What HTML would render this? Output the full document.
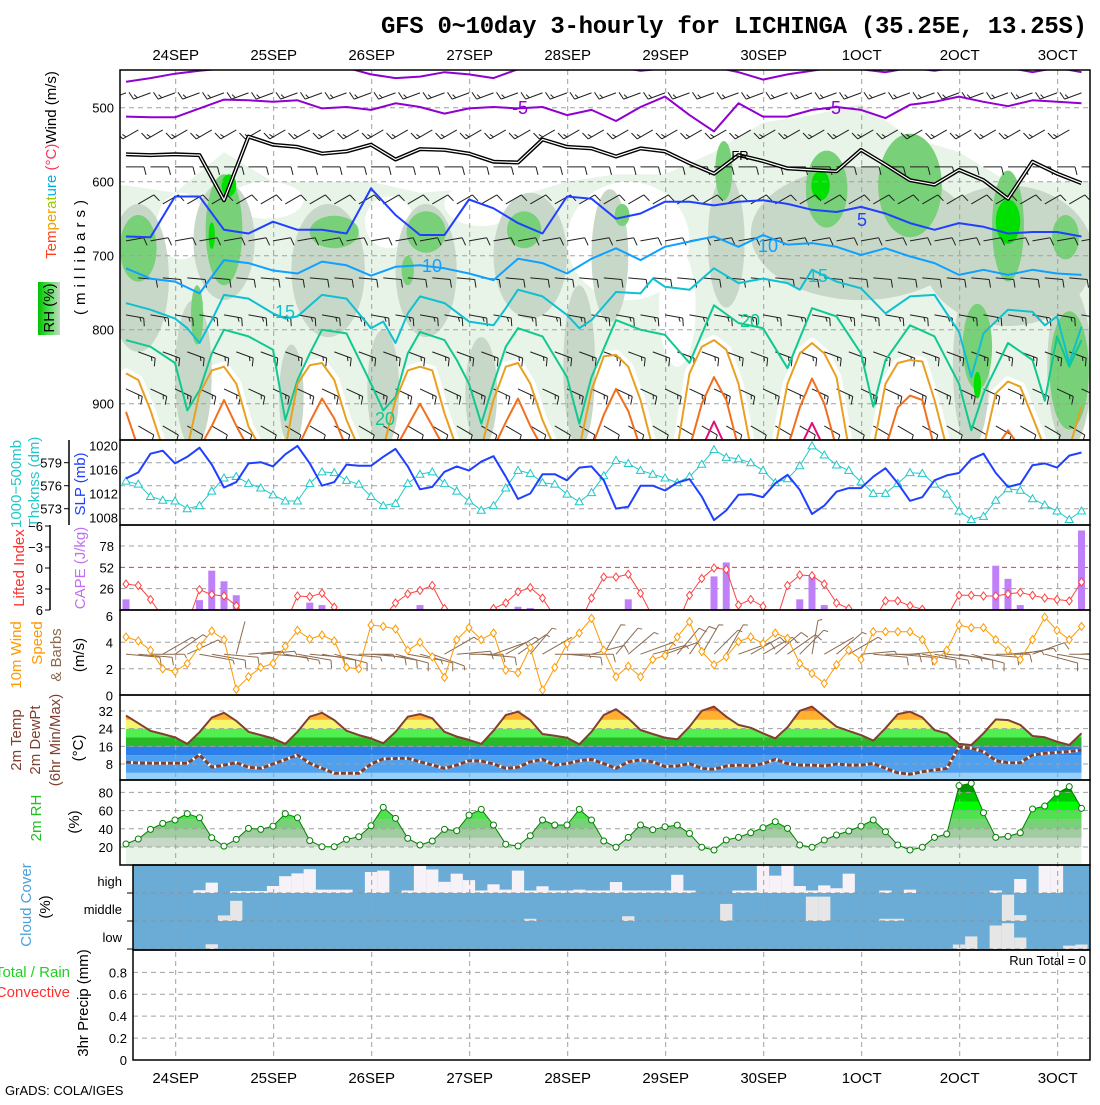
<!DOCTYPE html>
<html><head><meta charset="utf-8"><title>GFS meteogram LICHINGA</title>
<style>
body{margin:0;background:#fff}
svg text{font-family:"Liberation Sans",sans-serif}
.ax{font-size:13px;fill:#000}
.day{font-size:15px;fill:#000;text-anchor:middle}
.rt{font-size:15px}
</style></head>
<body>
<svg id="chart" width="1100" height="1100" viewBox="0 0 1100 1100" xmlns="http://www.w3.org/2000/svg">
<defs>
<clipPath id="c1"><rect x="120" y="70" width="970" height="370"/></clipPath>
<clipPath id="c2"><rect x="120" y="440" width="970" height="85"/></clipPath>
<clipPath id="c3"><rect x="120" y="525" width="970" height="85"/></clipPath>
<clipPath id="c4"><rect x="120" y="610" width="970" height="85"/></clipPath>
<clipPath id="c5"><rect x="120" y="695" width="970" height="85"/></clipPath>
<clipPath id="c6"><rect x="120" y="780" width="970" height="85"/></clipPath>
<clipPath id="c7"><rect x="133" y="865" width="957" height="85"/></clipPath>
<linearGradient id="rhg" x1="0" x2="1" y1="0" y2="0"><stop offset="0" stop-color="#00c000"/><stop offset="0.5" stop-color="#50e050"/><stop offset="1" stop-color="#c8d8c8"/></linearGradient>
</defs>
<rect x="0" y="0" width="1100" height="1100" fill="#fff"/>

<text x="734" y="33" font-family="Liberation Mono" font-weight="bold" font-size="24" text-anchor="middle" textLength="706" style="font-family:'Liberation Mono',monospace">GFS 0~10day 3-hourly for LICHINGA (35.25E, 13.25S)</text>

<g id="fills"></g>
<g id="grid"></g>
<g id="series"></g>
<g id="frames" fill="none" stroke="#000" stroke-width="1.5">
<rect x="120" y="70" width="970" height="370"/>
<rect x="120" y="440" width="970" height="85"/>
<rect x="120" y="525" width="970" height="85"/>
<rect x="120" y="610" width="970" height="85"/>
<rect x="120" y="695" width="970" height="85"/>
<rect x="120" y="780" width="970" height="85"/>
<rect x="133" y="865" width="957" height="85"/>
<rect x="133" y="950" width="957" height="110"/>
<line x1="69" y1="440" x2="69" y2="525"/>
<line x1="50" y1="525" x2="50" y2="610"/>
</g>

<g id="labels">
<text class="rt" transform="translate(56,165) rotate(-90)" text-anchor="middle"><tspan fill="#ff4020">Tem</tspan><tspan fill="#f0a000">per</tspan><tspan fill="#a0c800">at</tspan><tspan fill="#00b0e0">ure</tspan><tspan fill="#ff3050"> (°C)</tspan><tspan fill="#000">Wind (m/s)</tspan></text>
<rect x="38" y="282" width="22" height="53" fill="url(#rhg)"/>
<text class="rt" transform="translate(54,308) rotate(-90)" text-anchor="middle" fill="#000">RH (%)</text>
<text class="rt" transform="translate(85,255) rotate(-90)" text-anchor="middle" fill="#000" letter-spacing="5">(millibars)</text>

<text class="rt" transform="translate(21,484) rotate(-90)" text-anchor="middle" fill="#20c8c8">1000−500mb</text>
<text class="rt" transform="translate(39,482) rotate(-90)" text-anchor="middle" fill="#20c8c8">Thcknss (dm)</text>
<text class="rt" transform="translate(85,484) rotate(-90)" text-anchor="middle" fill="#2040ff">SLP (mb)</text>
<text class="rt" transform="translate(24,568) rotate(-90)" text-anchor="middle" fill="#ff3030">Lifted Index</text>
<text class="rt" transform="translate(85,568) rotate(-90)" text-anchor="middle" fill="#c070f0">CAPE (J/kg)</text>
<text class="rt" transform="translate(21,655) rotate(-90)" text-anchor="middle" fill="#ff9900">10m Wind</text>
<text class="rt" transform="translate(42,643) rotate(-90)" text-anchor="middle" fill="#ff9900">Speed</text>
<text class="rt" transform="translate(61,655) rotate(-90)" text-anchor="middle" fill="#8b6a4f">&amp; Barbs</text>
<text class="rt" transform="translate(84,655) rotate(-90)" text-anchor="middle" fill="#000">(m/s)</text>
<text class="rt" transform="translate(21,740) rotate(-90)" text-anchor="middle" fill="#804030">2m Temp</text>
<text class="rt" transform="translate(40,740) rotate(-90)" text-anchor="middle" fill="#804030">2m DewPt</text>
<text class="rt" transform="translate(60,740) rotate(-90)" text-anchor="middle" fill="#804030">(6hr Min/Max)</text>
<text class="rt" transform="translate(83,748) rotate(-90)" text-anchor="middle" fill="#000">(°C)</text>
<text class="rt" transform="translate(41,818) rotate(-90)" text-anchor="middle" fill="#20c020">2m RH</text>
<text class="rt" transform="translate(79,822) rotate(-90)" text-anchor="middle" fill="#000">(%)</text>
<text class="rt" transform="translate(31,905) rotate(-90)" text-anchor="middle" fill="#4aa0d8">Cloud Cover</text>
<text class="rt" transform="translate(50,907) rotate(-90)" text-anchor="middle" fill="#000">(%)</text>
<text class="rt" x="70" y="977" text-anchor="end" fill="#20d020">Total / Rain</text>
<text class="rt" x="70" y="997" text-anchor="end" fill="#ff3030">Convective</text>
<text class="rt" transform="translate(88,1003) rotate(-90)" text-anchor="middle" fill="#000">3hr Precip (mm)</text>
<text class="ax" x="122" y="886" text-anchor="end" font-size="15">high</text>
<text class="ax" x="122" y="914" text-anchor="end" font-size="15">middle</text>
<text class="ax" x="122" y="942" text-anchor="end" font-size="15">low</text>
<text class="ax" x="1086" y="965" text-anchor="end">Run Total = 0</text>
<text class="ax" x="5" y="1095">GrADS: COLA/IGES</text>
</g>
</svg>
<script>
// ---------------- data ----------------
const days = ['24SEP','25SEP','26SEP','27SEP','28SEP','29SEP','30SEP','1OCT','2OCT','3OCT'];
const slp = [1014.5,1015.5,1018.6,1019.1,1017,1018.1,1019.6,1016.8,1013,1013.9,1017,1017.2,1016.5,1018.5,1019.9,1017,1013.3,1013.9,1016.8,1016.6,1016.6,1018.1,1019.4,
1016.5,1012.7,1013.1,1015.6,1016.5,1015.8,1017.3,1018.2,1014.8,1011.1,1012,1015.2,1015.2,1014.2,1016.3,1016.5,1014.2,1009.5,1009.8,1013.3,1013.3,1012.5,1013.8,1014.4,1011.5,1007.6,1009.2,1011.8,
1011.9,1011.4,1013.7,1015.1,1012.6,1008.6,1010,1012.3,1012.9,1012.9,1014.8,1016.2,1013.7,1010.8,1011.4,1014.2,1015,1015.4,1017.7,1018.6,1015.4,1013.1,1013.6,1016.7,1017,1016.3,1018.3,1018.8];
const thk = [576.6,576.2,574.6,574.1,574,573,573.4,575.3,577,577.2,576.3,575.7,574.8,574,574,576.3,577.8,577.7,576.7,576.2,574.6,573.4,573.7,
576.3,577.5,577.8,576.3,575.3,574,572.8,573.4,575.7,578,577.6,576.4,576.2,574.9,573.9,575.1,577.3,579.3,578.9,578,577.5,577,576.4,577.2,578.8,580.7,579.7,579.5,
579,578,576.4,576.9,578.6,581.2,580,578.7,578,576.5,575,575,576.3,577.7,577.6,576.2,574.9,572.7,571.6,572,574.1,575.6,575.4,574.3,573.5,572.7,571.6,572.7];
const li = [2.3,2.5,4.5,7,8,8,3.1,3.8,4,5.4,7.5,8,8,8,4,4.1,3.6,5.6,8,8,7.5,7,5.0,
3.7,3.2,2.5,5.8,8,8,8,5.8,5.0,3.4,2.8,4.3,7,8,8,4.3,1.3,1.3,0.9,3.6,7,8,8,3.9,1.5,0,0.2,5.3,
4.5,5.5,8,2.5,1,1.1,2.3,5,5.8,8,7.5,4.7,4.7,5.4,5.9,8,7,3.9,3.9,4,4,3.7,3.5,3.9,4.3,4.5,4.7,2.0];
const cape = [13,0,0,0,0,0,12,48,35,18,1,0,0,0,0,9,6,0,0,0,0,0,0,0,6,0,0,0,0,0,0,0,4,2.5,0,0,0,0,0,0,0,13,0,0,0,0,0,0,41,58,0,0,0,0,0,13,42,6,0,0,0,0,0,0,0,0,0,0,0,0,0,54,38,6,1,0,1,0,97];
const spd = [4.4,4.1,3.4,2.0,1.8,2.4,3.7,4.85,4.2,0.45,1.4,2.1,2.4,3.7,4.9,4.25,4.55,4.1,2.1,2.0,5.3,5.2,5.0,
3.4,4.0,2.9,1.35,4.2,5.1,4.2,4.7,1.9,1.7,3.6,0.4,2.1,3.9,4.7,5.8,3.4,1.4,2.2,1.4,2.7,3.0,4.4,5.55,3.3,2.3,2.9,4.05,
4.4,3.9,4.7,4.3,2.4,1.65,0.9,2.3,3.4,2.7,4.8,4.8,4.8,4.8,4.2,2.6,3.4,5.3,5.1,5.1,4.2,3.4,2.7,4.2,5.9,4.9,4.2,5.2];
const wdir = [95,95,90,60,55,65,100,100,95,15, 85,85,95,100,100,95,100,105,95,90, 95,100,105,100,105,110,60,85,90,95,
70,60,55,40,60,90,95,90,75,30, 40,50,70,75,70,40,35,30,45,30, 70,60,60,50,55,45,10,60,50,60,
85,95,90,95,85,100,100,95,100,105, 95,90,85,80,70,105,100,90,85];
const temp = [29.9,26.5,23,21.6,20.1,17.1,22.4,29,31.2,27.5,22.6,21.1,19.6,17.1,22.6,29.4,31.2,27.9,23.1,21.1,19.6,17.4,22.5,
29.4,30.6,28.7,22.6,20.4,18.9,17.1,23.1,30.2,31.7,27.9,21.6,20.8,19.9,16.9,22.6,30.2,32.8,28.7,23.4,21.6,19.9,19.2,24.9,32.1,34,29.4,25.7,
24.4,21.9,19.6,24.6,32.1,34,29.4,24.9,23,21.1,18.6,24.2,30.6,31.7,29.1,23.4,21.9,17.1,16.6,21.9,28.2,27.9,25.7,20.7,20.1,18.1,16.6,21.9];
const dew = [8.8,8.5,8.3,8.3,8.3,8.3,12.1,6.5,7.5,8.6,6.5,6,8,10,12.1,8.3,6,3.8,3.8,3.8,8,10.3,10.5,
10.6,9,7.5,6,7.5,9.5,9.3,8,6,6.5,9,10.1,7.5,8.2,9.5,10.1,8.2,6,9,9.8,9,6.8,7.1,8.2,6,5.6,7.1,7.5,
7.1,8.2,10.1,8.2,7.5,7.5,7.1,8,7.5,7.5,8.2,6,4,3.4,4.5,5.3,6,15.8,15.1,13.6,9.5,8.6,8.6,12.1,12.8,13.2,13.6,14.3];
const rh = [23.3,28.8,39.4,46,49.7,56.6,52.2,30.2,21,28.4,40.5,39.4,43,56.6,52.2,27,20.3,20.3,28.4,31.3,43.4,63.6,51.5,
29.5,22.2,26.6,39.4,37.9,55,61.4,44.2,23,21.1,32.4,49.7,44.2,44.2,61.4,49.7,26.6,19.7,30.6,44.2,39,42.3,44,35,19.7,16.7,27.7,30.6,
35.7,41.2,47.8,40.5,22.2,19.7,27.7,33.2,37.6,43,49.7,36.8,22.2,16.7,19.7,30.6,34.3,87.4,90,57.7,30.6,31.7,35.7,61.8,65,79,86.3,62.5];
const cloudHigh = [0,0,0,0,0,0,10,37,0,7,7,7,25,60,70,85,12,12,12,0,75,80,0,9,100,84,40,69,46,9,31,12,80,9,24,9,9,12,9,9,39,9,9,9,9,65,9,0,0,0,9,9,100,62,100,25,9,27,17,69,0,0,9,0,12,0,0,0,0,0,0,9,0,50,0,100,100,0,0];
const cloudMid = [0,0,0,0,0,0,0,0,20,72,0,0,0,0,0,0,0,0,0,0,0,0,0,0,0,0,0,0,0,0,0,0,0,8,0,0,0,0,0,0,0,17,0,0,0,0,0,0,0,61,0,0,0,0,0,0,87,87,0,0,0,0,8,8,0,0,0,0,0,0,0,0,94,21,0,0,0,0,0];
const cloudLow = [0,0,0,0,0,0,0,17,0,0,0,0,0,0,0,0,0,0,0,0,0,0,0,0,0,0,0,0,0,0,0,0,0,0,0,0,0,0,0,0,0,0,0,0,0,0,0,0,0,0,0,0,0,0,0,0,0,0,0,0,0,0,0,0,0,0,0,0,16,45,0,84,92,41,0,0,0,12,16];
// upper-air temperature contours: pressure (mb) of each isotherm at time index
const cm10 = [465,460,454,450,447,446,446,446,448,446,455,460,458,452,455,460,448,446,446,445,445,450,447,446,445,452,462,455,450,445,448,452,446,450,445,445,446,452,446,452];
const cm5 = [512,513,513,501,489,490,492,490,501,499,503,494,499,508,501,499,501,499,510,503,518,499,485,510,532,494,512,512,503,499,503,514,496,492,485,492,498,490,492,494];
const cfr = [563,564,563,564,625,539,550,553,562,559,550,570,556,557,562,573,574,543,553,555,566,555,559,575,589,564,572,582,584,586,557,577,598,604,584,598,623,573,589,602];
const c5 = [674,675,620,620,665,670,654,665,665,670,609,645,672,672,624,636,656,670,620,623,650,643,627,627,632,627,625,630,638,641,634,643,656,665,656,661,670,668,668,674];
const c10 = [717,731,735,751,706,710,720,724,708,713,727,715,713,717,724,733,704,710,724,704,690,706,688,681,674,688,672,685,683,688,699,690,701,710,726,719,726,719,724,726];
const t15 = [0,2,4,5,6,7,8,10,12,13,14,16,18,20,21,22,23,24,26,28,30,31,32,34,36,37,38,40,42,43,44,46,48,50,52,54,55,56,58,60,62,64,66,68,69,70,72,74,75,76,77,78];
const p15 = [764,773,785,798,818,787,753,758,778,785,782,753,758,798,789,818,778,755,764,789,794,771,746,755,780,798,787,749,751,731,742,746,717,737,731,737,746,719,735,744,778,755,753,803,864,805,773,776,794,782,845,796];
const t20 = [0,2,4,5,6,7,8,10,12,13,14,15,16,18,20,21,22,23,24,26,27,28,29,30,31,32,34,36,37,38,40,42,44,46,48,50,52,54,56,58,60,61,62,64,66,68,69,70,72,74,75,76,77,78];
const p20 = [814,823,845,909,882,832,800,809,827,922,868,832,800,805,873,909,891,832,803,814,841,873,927,873,823,798,809,864,927,864,787,800,807,845,767,791,798,852,771,782,832,904,841,794,809,873,936,886,818,841,896,809,850,814];
const t25 = [0,1,2,3,5,6,7,8,9,10,11,13,14,15,16,17,18,19,21,22,23,24,25,26,27,29,30,31,32,33,34,35,37,38,39,40,41,42,43,45,46,47,48,49,50,51,53,54,55,56,57,58,59,61,62,63,64,65,66,67,70,71,72,73,74,75,77,78];
const p25 = [859,868,909,960,960,886,855,850,873,931,960,960,873,848,845,868,922,960,960,895,855,850,855,913,960,960,895,850,845,873,922,960,960,882,836,834,850,895,960,960,859,823,814,827,873,960,960,873,832,818,832,864,960,960,873,845,841,843,895,960,960,886,870,877,918,960,960,904];
const t30 = [0,1,6,7,8,9,10,14,15,16,17,18,22,23,24,25,26,30,31,32,33,34,38,39,40,41,42,46,47,48,49,50,54,55,56,57,58,62,63,64,65,66,71,72,73];
const p30 = [911,960,960,930,895,930,960,960,925,893,920,960,960,930,900,930,960,960,925,893,930,960,960,915,880,910,960,960,900,864,895,960,960,905,866,900,960,960,905,889,895,960,960,936,960];
const t35 = [47,48,49,55,56,57];
const p35 = [960,924,960,960,926,960];
// upper-air RH regions
const lightT = [0,4,8,12,16,20,24,28,32,36,40,44,48,52,56,60,64,68,72,76,78];
const lightP = [605,615,560,600,600,600,615,610,620,600,590,590,560,520,510,495,540,560,600,600,600];
const whiteT = [4.5,11.5,21.5,29,41,45], whiteP = [660,625,655,630,680,770], whiteW = [2,3,2,3,5,1.5], whiteH = [45,25,35,30,80,80];
const grayT = [1,5.5,8,13.5,16.5,21,24.5,29,33,37,39.5,49,60,72,69,77];
const grayP = [730,860,680,890,720,880,720,885,700,850,700,680,670,700,850,850];
const grayW = [2.5,1.5,2.5,1,3,1.3,2.5,1.3,3,1.3,1.5,1.5,9,7,1.5,1.8];
const grayH = [100,100,80,70,90,80,90,75,85,110,90,90,90,95,110,110];
const greenT = [1,8,5.8,17,24.5,23,32.5,40.5,48.8,57.2,64,72,76.7,69.5,77];
const greenP = [690,665,780,668,668,720,665,645,585,610,605,660,675,823,855];
const greenW = [1.5,1.5,0.5,2,1.6,0.5,1.4,0.6,0.7,1.7,2.6,1.3,1.1,1.2,1.6];
const greenH = [45,75,40,22,28,20,25,15,40,52,70,75,30,58,80];
const brightT = [8.4,7,56.7,72,69.5], brightP = [605,673,605,654,875], brightW = [0.6,0.25,0.75,1,0.3], brightH = [15,18,20,30,18];
// upper barbs per level
const barbP = [480,530,580,630,680,730,780,830,880,930];
const barbDir = [250,240,90,60,80,95,100,110,115,120];
const barbKt = [15,15,10,10,10,10,15,15,15,10];

// ---------------- axes ----------------
const NS = 'http://www.w3.org/2000/svg';
function mk(tag, parent){ const e = document.createElementNS(NS, tag); parent.appendChild(e); return e; }
function at(e, o){ for (const k in o) e.setAttribute(k, o[k]); return e; }
const X = i => 126 + 12.25 * i;
const dayX = d => 175.7 + 98 * d;
const pY = p => 107.7 + (p - 500) * 0.74;
const slpY = v => 445.3 + (1020 - v) * 6.03;
const thkY = v => 485.7 - (v - 576) * 7.67;
const liY = v => 568 + 7 * v;
const capeY = v => 610 - v * 0.82;
const spdY = v => 695.3 - 13.25 * v;
const tY = v => 764 - (v - 8) * 2.208;
const rhY = v => 847 - (v - 20) * 0.91;
const prY = v => 1060 - v * 109.6;

const fills = document.getElementById('fills');
const grid = document.getElementById('grid');
const series = document.getElementById('series');
const labels = document.getElementById('labels');
const evenIdx = []; for (let i = 0; i <= 78; i += 2) evenIdx.push(i);
const allIdx = []; for (let i = 0; i < 79; i++) allIdx.push(i);

function line(t, vals, yf, parent, color, w, dash){
  const pts = t.map((ti, k) => X(ti).toFixed(1) + ',' + yf(vals[k]).toFixed(1)).join(' ');
  const pl = mk('polyline', parent);
  at(pl, {points: pts, fill: 'none', stroke: color, 'stroke-width': w, 'stroke-linejoin': 'round'});
  if (dash) pl.setAttribute('stroke-dasharray', dash);
  return pl;
}
function txt(parent, x, y, s, cls, anchor, fill, size){
  const t = mk('text', parent);
  at(t, {x: x, y: y, 'text-anchor': anchor || 'end'});
  if (cls) t.setAttribute('class', cls);
  if (fill) t.setAttribute('fill', fill);
  if (size) t.setAttribute('font-size', size);
  t.textContent = s; return t;
}
function barb(parent, x, y, dir, kt, L, color){
  const r = dir * Math.PI / 180;
  const dx = Math.sin(r), dy = -Math.cos(r);
  const ex = x + dx * L, ey = y + dy * L;
  let d = 'M' + x.toFixed(1) + ' ' + y.toFixed(1) + 'L' + ex.toFixed(1) + ' ' + ey.toFixed(1);
  const px = -dy, py = dx; let n = Math.round(kt / 5), pos = 0;
  while (n > 0) {
    const bx = ex - dx * pos, by = ey - dy * pos;
    const fl = n >= 2 ? 8 : 4;
    d += 'M' + bx.toFixed(1) + ' ' + by.toFixed(1) + 'l' + (px * fl + dx * 2).toFixed(1) + ' ' + (py * fl + dy * 2).toFixed(1);
    n -= 2; pos += 4;
  }
  const p = mk('path', parent);
  at(p, {d: d, stroke: color, 'stroke-width': 1, fill: 'none'});
  return p;
}

// ---------------- upper-air panel ----------------
const gTop = mk('g', fills); gTop.setAttribute('clip-path', 'url(#c1)');


let lp = '120,440 120,' + pY(lightP[0]).toFixed(1) + ' ' + lightT.map((t, k) => X(t).toFixed(1) + ',' + pY(lightP[k]).toFixed(1)).join(' ') + ' 1090,' + pY(lightP[lightP.length - 1]).toFixed(1) + ' 1090,440';
const lightPoly = mk('polygon', gTop); at(lightPoly, {points: lp, fill: '#e8f4e8'});


function blobs(T, P, W, H, color, name){
  T.forEach((t, k) => {
    const e = mk('ellipse', gTop);
    at(e, {cx: X(t), cy: pY(P[k]), rx: W[k] * 12.25, ry: H[k] * 0.74, fill: color});
    
    
  });
}
blobs(whiteT, whiteP, whiteW, whiteH, '#ffffff', 'rh-dry-region');
const arch = mk('polygon', gTop);
at(arch, {points: '120,445 ' + t25.map((t, k) => X(t).toFixed(1) + ',' + pY(p25[k]).toFixed(1)).join(' ') + ' 1090,445', fill: '#fff', stroke: '#fff', 'stroke-width': 10, 'stroke-linejoin': 'round'});


blobs(grayT, grayP, grayW, grayH, '#c8d8c8', 'rh-mid-region');
blobs(greenT, greenP, greenW, greenH, '#78d078', 'rh-moist-region');
blobs(brightT, brightP, brightW, brightH, '#00e000', 'rh-saturated-region');

// ---------------- grid ----------------
days.forEach((d, k) => {
  const g = mk('line', grid);
  at(g, {x1: dayX(k), x2: dayX(k), y1: 70, y2: 1060, stroke: '#a0a0a0', 'stroke-dasharray': '5,4', 'stroke-width': 1});
  
  
  const t1 = txt(labels, dayX(k), 60, d, 'day', 'middle');
  
  
  const t2 = txt(labels, dayX(k), 1083, d, 'day', 'middle');
  
  
});
function hgrid(y, x0, color){
  const g = mk('line', grid);
  at(g, {x1: x0 || 120, x2: 1090, y1: y, y2: y, stroke: color || '#a0a0a0', 'stroke-dasharray': '5,4', 'stroke-width': 1});
  
  
}
const pTicks = [500,600,700,800,900];
pTicks.forEach(p => { hgrid(pY(p)); const t = txt(labels, 114, pY(p) + 5, String(p), 'ax');
  
   });
const thkTicks = [579,576,573];
thkTicks.forEach(v => { hgrid(thkY(v)); const t = txt(labels, 62, thkY(v) + 5, String(v), 'ax');
  
  
  const tk = mk('line', grid); at(tk, {x1: 64, x2: 69, y1: thkY(v), y2: thkY(v), stroke: '#000'});
  
   });
const slpTicks = [1020,1016,1012,1008];
slpTicks.forEach(v => { const t = txt(labels, 118, slpY(v) + 5, String(v), 'ax');
  
   });
const liTicks = [-6,-3,0,3,6];
liTicks.forEach(v => { const t = txt(labels, 43, liY(v) + 5, v < 0 ? '−' + (-v) : String(v), 'ax');
  
  
  const tk = mk('line', grid); at(tk, {x1: 45, x2: 50, y1: liY(v), y2: liY(v), stroke: '#000'});
  
   });
const capeTicks = [78,52,26];
capeTicks.forEach(v => { hgrid(capeY(v), 120, v === 52 ? '#ff3030' : '#a0a0a0'); const t = txt(labels, 114, capeY(v) + 5, String(v), 'ax');
  
   });
const spdTicks = [6,4,2,0];
spdTicks.forEach(v => { if (v === 2 || v === 4) hgrid(spdY(v)); const t = txt(labels, 113, spdY(v) + 5, String(v), 'ax');
  
   });
const tTicks = [32,24,16,8];
const rhTicks = [80,60,40,20];
const prTicks = [0.8,0.6,0.4,0.2,0];

// ---------------- temperature bands ----------------
const bandLo = [0,4,12,16,20,24,28,32,35];
const bandHi = [4,12,16,20,24,28,32,35,50];
const bandCol = ['#96cff8','#50a0f0','#2a80e8','#28b828','#50f050','#f5f56e','#ffb030','#ff7000','#e02000'];
const defs = document.querySelector('defs');
const tcp = mk('clipPath', defs); tcp.setAttribute('id', 'tclip');
const tcpPoly = mk('polygon', tcp);
tcpPoly.setAttribute('points', X(0) + ',780 ' + allIdx.map(i => X(i).toFixed(1) + ',' + tY(temp[i]).toFixed(1)).join(' ') + ' ' + X(78) + ',780');
const gT = mk('g', fills); gT.setAttribute('clip-path', 'url(#tclip)');


bandLo.forEach((lo, k) => { const r = mk('rect', gT);
  at(r, {x: X(0), width: X(78) - X(0), y: Math.max(tY(bandHi[k]), 695), height: Math.min(tY(lo), 780) - Math.max(tY(bandHi[k]), 695), fill: bandCol[k]});
  
   });
tTicks.forEach(v => { hgrid(tY(v)); const t = txt(labels, 113, tY(v) + 5, String(v), 'ax');
  
   });

// ---------------- RH bands ----------------
const rhLo = [0,20,30,40,50,60,70,80];
const rhHi = [20,30,40,50,60,70,80,100];
const rhCol = ['#e8f4e8','#c8d8c8','#a0cca0','#78d078','#50e050','#00ff00','#00c800','#009600'];
const rcp = mk('clipPath', defs); rcp.setAttribute('id', 'rclip');
const rcpPoly = mk('polygon', rcp);
rcpPoly.setAttribute('points', X(0) + ',865 ' + allIdx.map(i => X(i).toFixed(1) + ',' + rhY(rh[i]).toFixed(1)).join(' ') + ' ' + X(78) + ',865');
const gR = mk('g', fills); gR.setAttribute('clip-path', 'url(#rclip)');


const lightBase = mk('rect', fills);
at(lightBase, {x: X(0), width: X(78) - X(0), y: rhY(20), height: 865 - rhY(20), fill: '#e8f4e8'});


rhLo.forEach((lo, k) => { const r = mk('rect', gR);
  at(r, {x: X(0), width: X(78) - X(0), y: Math.max(rhY(rhHi[k]), 780), height: Math.min(rhY(lo), 865) - Math.max(rhY(rhHi[k]), 780), fill: rhCol[k]});
  
   });
rhTicks.forEach(v => { hgrid(rhY(v)); const t = txt(labels, 113, rhY(v) + 5, String(v), 'ax');
  
   });

// ---------------- cloud ----------------
const cb = mk('rect', fills); at(cb, {x: 133, y: 865, width: 957, height: 85, fill: '#6aacd6'});


const gC = mk('g', fills); gC.setAttribute('clip-path', 'url(#c7)');


const rowBottom = [893, 921, 949];
[cloudHigh, cloudMid, cloudLow].forEach((arr, r) => {
  arr.forEach((v, i) => { if (v <= 0) return;
    const h = 28 * v / 100; const b = mk('rect', gC);
    at(b, {x: X(i) - 6.125, width: 12.25, y: rowBottom[r] - h, height: h, fill: r === 0 ? '#f6f2f8' : '#e6e6e6'});
    
     });
  hgrid(rowBottom[r], 133, '#909090');
  const tk = mk('line', grid); at(tk, {x1: 127, x2: 133, y1: rowBottom[r], y2: rowBottom[r], stroke: '#000'});
  
  
});
prTicks.forEach(v => { if (v > 0) hgrid(prY(v), 133); const t = txt(labels, 127, prY(v) + 5, String(v), 'ax');
  
   });

// ---------------- upper-air lines ----------------
const gU = mk('g', series); gU.setAttribute('clip-path', 'url(#c1)');


barbP.forEach((p, l) => {
  for (let i = (l % 2); i <= 78; i += 2) {
    const b = barb(gU, X(i), pY(p), barbDir[l], barbKt[l], 18, '#202020');
    
    
  }
});
function cline(t, p, color, name, w){
  const l = line(t, p, pY, gU, color, w || 2);
  
  
}
cline(evenIdx, cm10, '#9000d0', 'isotherm-minus10');
cline(evenIdx, cm5, '#9000d0', 'isotherm-minus5');
cline(evenIdx, cfr, '#000', 'freezing-level', 4);
cline(evenIdx, cfr, '#fff', 'freezing-level-inner', 1.2);
cline(evenIdx, c5, '#2040ff', 'isotherm-5');
cline(evenIdx, c10, '#10a0ff', 'isotherm-10');
cline(t15, p15, '#10c0d0', 'isotherm-15');
cline(t20, p20, '#10c890', 'isotherm-20');
cline(t25, p25, '#e8a020', 'isotherm-25');
cline(t30, p30, '#f07020', 'isotherm-30');
cline(t35, p35, '#e0107a', 'isotherm-35');
const cLab = [['-5',520,114,'#9000d0'],['-5',833,114,'#9000d0'],['FR',740,160,'#000'],['5',862,226,'#2040ff'],['10',432,272,'#10a0ff'],['10',768,252,'#10a0ff'],['15',285,318,'#10c0d0'],['15',818,282,'#10c0d0'],['20',385,425,'#10c890'],['20',750,327,'#10c890']];
cLab.forEach(c => { const t = txt(gU, c[1], c[2], c[0], null, 'middle', c[3], c[0] === 'FR' ? 13 : 18);
  
   });

// ---------------- SLP / thickness ----------------
const g2 = mk('g', series); g2.setAttribute('clip-path', 'url(#c2)');
const thkL = line(allIdx, thk, thkY, g2, '#20c8c8', 1);


allIdx.forEach(i => { const m = mk('path', g2); const x = X(i), y = thkY(thk[i]);
  at(m, {d: 'M' + x + ' ' + (y - 4) + 'L' + (x + 4) + ' ' + (y + 3) + 'L' + (x - 4) + ' ' + (y + 3) + 'Z', fill: '#fff', stroke: '#20c8c8'});
  
   });
const slpL = line(allIdx, slp, slpY, g2, '#2040ff', 2);



// ---------------- CAPE / LI ----------------
const g3 = mk('g', series); g3.setAttribute('clip-path', 'url(#c3)');
cape.forEach((v, i) => { if (v <= 0) return; const r = mk('rect', g3);
  at(r, {x: X(i) - 3.5, width: 7, y: capeY(v), height: 610 - capeY(v), fill: '#c080f8'});
  
   });
const liL = line(allIdx, li, liY, g3, '#ff4040', 1);


function diamond(parent, x, y, color){ const m = mk('path', parent);
  at(m, {d: 'M' + x + ' ' + (y - 4) + 'L' + (x + 3) + ' ' + y + 'L' + x + ' ' + (y + 4) + 'L' + (x - 3) + ' ' + y + 'Z', fill: '#fff', stroke: color}); return m; }
allIdx.forEach(i => { if (li[i] > 6.5) return; const m = diamond(g3, X(i), liY(li[i]), '#ff4040');
  
   });

// ---------------- wind ----------------
const g4 = mk('g', series); g4.setAttribute('clip-path', 'url(#c4)');
allIdx.forEach(i => { const b = barb(g4, X(i), spdY(3.1), wdir[i], spd[i] * 2, 34, '#8b6a4f');
  
   });
const spL = line(allIdx, spd, spdY, g4, '#ff9900', 1);


allIdx.forEach(i => { const m = diamond(g4, X(i), spdY(spd[i]), '#ff9900');
  
   });

// ---------------- temp / dew ----------------
const g5 = mk('g', series); g5.setAttribute('clip-path', 'url(#c5)');
const tL = line(allIdx, temp, tY, g5, '#804030', 2);


const dW = line(allIdx, dew, tY, g5, '#ffffff', 3);


const dL = line(allIdx, dew, tY, g5, '#804030', 3, '5,2');



// ---------------- RH ----------------
const g6 = mk('g', series); g6.setAttribute('clip-path', 'url(#c6)');
const rL = line(allIdx, rh, rhY, g6, '#008000', 1);


allIdx.forEach(i => { const c = mk('circle', g6);
  at(c, {cx: X(i), cy: rhY(rh[i]), r: 3, fill: '#fff', stroke: '#008000'});
  
   });
</script>
</body></html>
